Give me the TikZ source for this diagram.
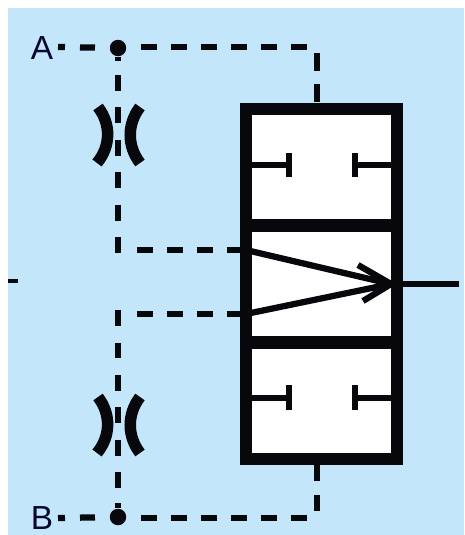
\documentclass[tikz,border=0pt]{standalone}
\usepackage{fontspec}
\setmainfont{Liberation Sans}
\definecolor{fondo}{HTML}{C3E6FB}
\definecolor{tinta}{HTML}{07070C}
\tikzset{
  caja/.style={draw=tinta,line width=0.25cm,fill=white,inner sep=0pt,minimum width=3.02cm},
  tope/.style={draw=tinta,line width=0.12cm},
  flecha/.style={draw=tinta,line width=0.125cm,line join=round},
  piloto/.style={draw=tinta,line width=0.125cm,dash pattern=on 0.32cm off 0.28cm},
  vertical/.style={draw=tinta,line width=0.125cm,dash pattern=on 0.32cm off 0.33cm},
  corto/.style={draw=tinta,line width=0.125cm,dash pattern=on 0.14cm off 0.3cm on 0.3cm off 2cm},
  arco/.style={draw=tinta,line width=0.23cm},
  union/.style={circle,fill=tinta,inner sep=0pt,minimum size=0.33cm},
  letra/.style={text=tinta!85!blue,font=\fontsize{19}{23}\selectfont,inner sep=0pt}
}
\begin{document}
\begin{tikzpicture}[x=0.02cm,y=-0.02cm]
            \useasboundingbox (0,0) rectangle (464,535);
            \fill[white] (0,0) rectangle (464,535);
            \fill[fondo] (8,8) rectangle (464,535);
            % lineas de pilotaje
            \node[letra] (portA) at (42,48) {A};
            \node[letra] (portB) at (42,518) {B};
            \node[union] (unionA) at (118,48) {};
            \node[union] (unionB) at (118,517) {};
            \coordinate (salidaA) at (58,47);
            \coordinate (salidaB) at (58,518);
            \coordinate (ramaA) at (141,47);
            \coordinate (ramaB) at (141,518);
            \coordinate (codoA) at (307,47);
            \coordinate (codoB) at (308,518);
            \coordinate (bajadaA) at (317,53);
            \coordinate (bajadaB) at (317,511);
            \coordinate (entradaA) at (317,103);
            \coordinate (entradaB) at (317,465);
            \coordinate (caidaA) at (118,75);
            \coordinate (caidaB) at (118,488);
            \coordinate (esquinaA) at (118,253);
            \coordinate (esquinaB) at (118,310);
            \coordinate (tramoA) at (137,250);
            \coordinate (tramoB) at (137,314);
            \coordinate (pilotoA) at (246,250);
            \coordinate (pilotoB) at (246,314);
            \draw[corto] (salidaA) -- (unionA);
            \draw[corto] (salidaB) -- (unionB);
            \draw[piloto] (ramaA) -- (codoA);
            \draw[piloto] (ramaB) -- (codoB);
            \draw[vertical,dash pattern=on 0.36cm off 0.26cm] (bajadaA) -- (entradaA);
            \draw[piloto] (bajadaB) -- (entradaB);
            \draw[vertical] (caidaA) -- (esquinaA);
            \draw[vertical] (esquinaB) -- (caidaB);
            \draw[piloto] (tramoA) -- (pilotoA);
            \draw[piloto] (tramoB) -- (pilotoB);
            \draw[draw=tinta,line width=0.11cm] (unionA) -- ++(0,13);
            \draw[draw=tinta,line width=0.11cm] (unionB) -- ++(0,-14);
            % cuerpo
            \node[caja,minimum height=2.33cm] (casilla1) at (321.5,167) {};
            \node[caja,minimum height=2.34cm] (casilla2) at (321.5,284) {};
            \node[caja,minimum height=2.33cm] (casilla3) at (321.5,401) {};
            % topes
            \draw[tope] (252,165) -- (289,165);
            \draw[tope] (289,153) -- (289,177);
            \draw[tope] (392,165) -- (355,165);
            \draw[tope] (355,153) -- (355,177);
            \draw[tope] (252,398) -- (289,398);
            \draw[tope] (289,385) -- (289,410);
            \draw[tope] (392,398) -- (355,398);
            \draw[tope] (355,385) -- (355,410);
            % flecha
            \coordinate (punta) at (391,284);
            \coordinate (salida) at (459,284);
            \draw[flecha] (pilotoA) -- (punta);
            \draw[flecha] (pilotoB) -- (punta);
            \draw[flecha] (358,265) -- (punta) -- (363,301);
            \draw[flecha] (punta) -- (salida);
            \draw[draw=tinta,line width=0.08cm] (8,281) -- (18,281);
            % estranguladores
            \draw[arco] (98,107) .. controls (111,124) and (111,146) .. (97,163);
            \draw[arco] (140,107) .. controls (127,124) and (127,146) .. (140,163);
            \draw[arco] (98,397) .. controls (111,414) and (111,436) .. (97,453);
            \draw[arco] (140,397) .. controls (127,414) and (127,436) .. (140,453);
        \end{tikzpicture}
\end{document}
